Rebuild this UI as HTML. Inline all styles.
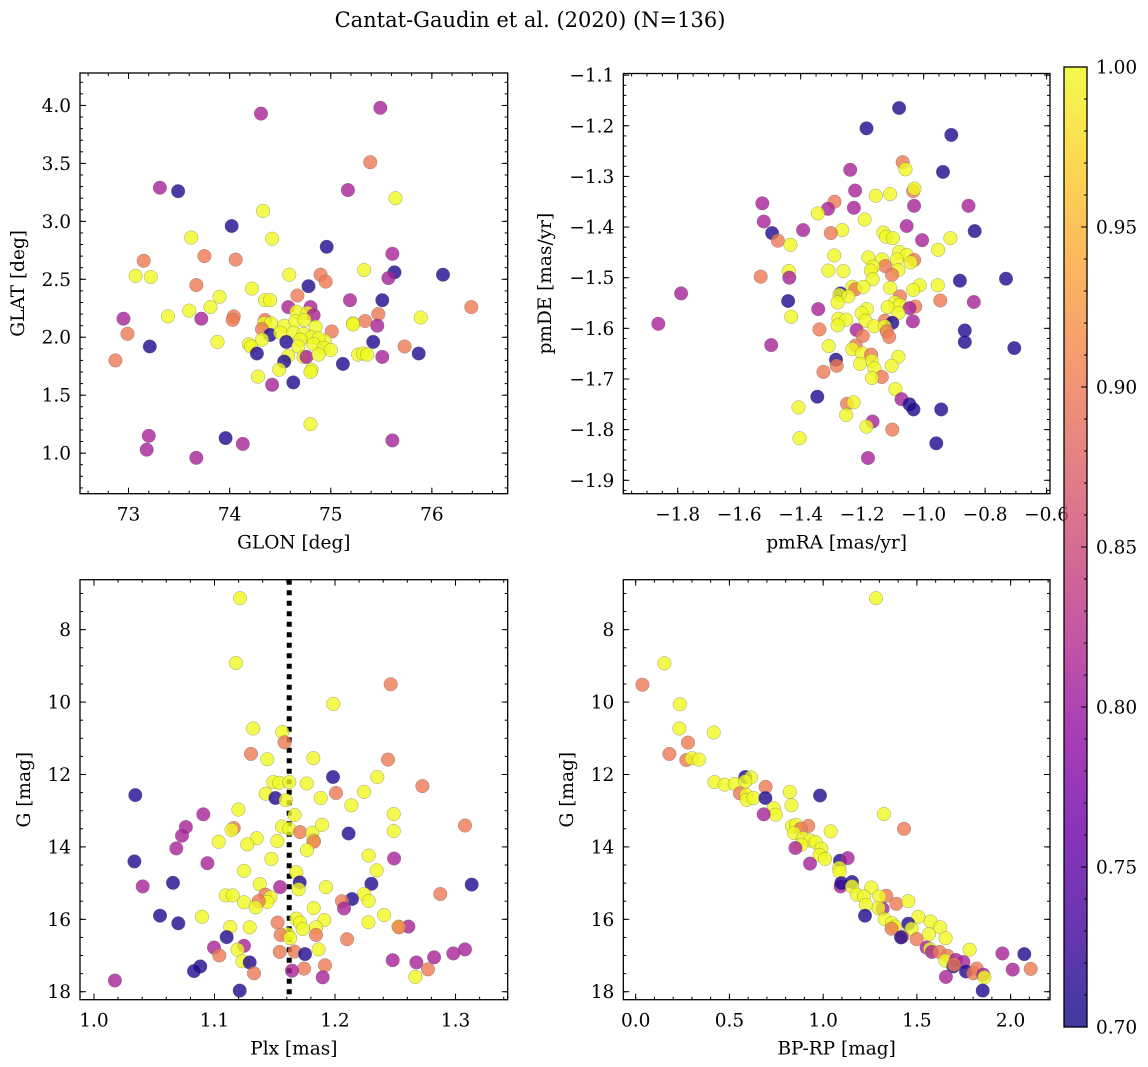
<!DOCTYPE html>
<html><head><meta charset="utf-8"><style>
body{margin:0;background:#fff}
svg{display:block;font-family:"DejaVu Serif","Liberation Serif",serif}
</style></head><body>
<svg id="fig" width="1148" height="1067" viewBox="0 0 1148 1067" xmlns="http://www.w3.org/2000/svg">
<defs><linearGradient id="cmap" x1="0" y1="1" x2="0" y2="0">
<stop offset="0" stop-color="#0d0887"/><stop offset="0.1" stop-color="#41049d"/><stop offset="0.2" stop-color="#6a00a8"/><stop offset="0.3" stop-color="#8f0da4"/><stop offset="0.4" stop-color="#b12a90"/><stop offset="0.5" stop-color="#cc4778"/><stop offset="0.6" stop-color="#e16462"/><stop offset="0.7" stop-color="#f2844b"/><stop offset="0.8" stop-color="#fca636"/><stop offset="0.9" stop-color="#fcce25"/><stop offset="1" stop-color="#f0f921"/>
</linearGradient></defs>
<text x="530" y="27" font-size="21" text-anchor="middle">Cantat-Gaudin et al. (2020) (N=136)</text>
</svg>
<script>
// Panel 1: GLON vs GLAT
const p1x=[74.31,75.49,75.39,73.31,73.49,75.17,75.64,74.33,74.02,73.62,74.42,74.96,75.61,73.15,73.75,74.06,75.33,73.07,73.22,74.59,74.90,75.63,75.57,76.11,74.95,74.22,74.78,73.67,74.67,73.90,74.35,74.40,75.19,75.51,76.39,73.81,74.58,74.80,73.60,75.47,72.95,73.39,73.72,74.04,74.03,75.89,74.66,74.77,74.83,75.34,75.22,75.22,75.46,74.35,74.34,74.41,74.32,74.54,74.65,74.74,74.85,75.01,72.99,74.40,74.50,74.63,74.73,74.81,74.94,74.32,74.56,74.70,74.88,73.88,74.19,74.21,73.21,75.42,75.73,74.68,74.83,74.93,75.00,74.27,75.27,75.32,75.36,75.51,75.87,72.87,74.58,74.73,74.76,74.88,74.54,75.12,74.49,74.81,74.80,74.28,74.42,74.63,74.80,73.20,73.18,73.96,74.13,73.67,75.61];
const p1y=[3.93,3.98,3.51,3.29,3.26,3.27,3.20,3.09,2.96,2.86,2.85,2.78,2.72,2.66,2.70,2.67,2.58,2.53,2.52,2.54,2.54,2.56,2.51,2.54,2.48,2.42,2.44,2.45,2.36,2.35,2.32,2.32,2.32,2.32,2.26,2.26,2.26,2.26,2.23,2.20,2.16,2.18,2.16,2.18,2.15,2.17,2.22,2.21,2.19,2.14,2.12,2.11,2.10,2.15,2.12,2.12,2.07,2.10,2.14,2.15,2.09,2.05,2.03,2.02,2.04,2.04,2.03,2.00,1.97,1.98,1.96,1.98,1.99,1.96,1.94,1.92,1.92,1.96,1.92,1.92,1.94,1.91,1.89,1.86,1.85,1.86,1.85,1.83,1.86,1.80,1.84,1.83,1.83,1.85,1.79,1.77,1.72,1.72,1.70,1.66,1.59,1.61,1.25,1.15,1.03,1.13,1.08,0.96,1.11];
const p1c=[0.81,0.81,0.9,0.81,0.71,0.81,1,1,0.71,1,1,0.71,0.81,0.9,0.9,0.9,1,1,1,1,0.9,0.71,0.81,0.71,0.9,1,0.71,0.9,0.9,1,1,1,0.81,0.71,0.9,1,0.81,0.81,1,0.9,0.81,1,0.81,0.9,0.9,1,1,1,0.81,0.9,1,1,0.81,0.9,1,1,0.9,1,1,1,1,0.9,0.9,0.71,1,1,1,1,1,1,0.71,1,1,1,1,1,0.71,0.71,0.9,1,1,1,1,0.71,1,1,1,0.81,0.71,0.9,1,1,0.81,1,0.71,0.71,1,1,1,1,0.81,0.71,1,0.81,0.81,0.71,0.81,0.81,0.81];
// Panel 2: pmRA vs pmDE
const p2x=[-1.080,-1.186,-0.910,-1.068,-1.059,-1.239,-0.937,-1.223,-1.034,-1.030,-1.156,-1.109,-1.525,-1.290,-1.311,-1.344,-1.227,-1.031,-0.854,-1.192,-1.520,-1.055,-1.392,-1.265,-1.302,-1.493,-0.834,-1.131,-1.122,-1.100,-0.913,-1.474,-1.433,-1.005,-0.953,-1.291,-1.180,-1.135,-1.080,-1.055,-1.031,-1.042,-1.087,-1.125,-1.164,-1.172,-1.082,-1.310,-1.261,-1.439,-1.437,-1.530,-1.103,-1.166,-0.882,-0.732,-1.232,-1.222,-1.196,-1.109,-1.013,-0.954,-1.034,-1.270,-1.789,-1.077,-1.274,-1.245,-1.280,-1.094,-1.077,-1.441,-0.946,-0.837,-1.027,-1.117,-1.046,-1.343,-1.185,-1.202,-1.082,-1.431,-1.277,-1.252,-1.189,-1.126,-1.035,-1.102,-1.863,-1.280,-1.161,-1.127,-1.339,-1.218,-0.866,-1.120,-1.198,-1.112,-0.866,-1.496,-1.221,-1.309,-1.232,-1.200,-1.171,-1.169,-1.082,-0.705,-1.285,-1.283,-1.207,-1.104,-1.160,-1.326,-1.136,-1.168,-1.092,-1.346,-1.072,-1.046,-1.033,-0.943,-1.249,-1.228,-1.407,-1.252,-1.166,-1.186,-1.102,-0.959,-1.404,-1.181];
const p2y=[-1.165,-1.205,-1.218,-1.272,-1.286,-1.287,-1.291,-1.328,-1.329,-1.324,-1.338,-1.335,-1.353,-1.350,-1.364,-1.373,-1.362,-1.358,-1.358,-1.385,-1.389,-1.398,-1.406,-1.406,-1.412,-1.412,-1.408,-1.411,-1.419,-1.422,-1.422,-1.427,-1.435,-1.426,-1.445,-1.456,-1.460,-1.464,-1.449,-1.455,-1.465,-1.470,-1.464,-1.477,-1.478,-1.486,-1.485,-1.486,-1.487,-1.487,-1.500,-1.498,-1.494,-1.503,-1.506,-1.502,-1.518,-1.523,-1.518,-1.520,-1.515,-1.515,-1.524,-1.531,-1.531,-1.537,-1.534,-1.537,-1.549,-1.549,-1.554,-1.546,-1.545,-1.548,-1.557,-1.558,-1.560,-1.562,-1.562,-1.570,-1.570,-1.577,-1.581,-1.583,-1.585,-1.585,-1.586,-1.589,-1.591,-1.594,-1.596,-1.596,-1.602,-1.603,-1.604,-1.606,-1.615,-1.617,-1.627,-1.633,-1.634,-1.635,-1.641,-1.649,-1.652,-1.664,-1.656,-1.639,-1.662,-1.674,-1.670,-1.674,-1.679,-1.686,-1.696,-1.698,-1.720,-1.735,-1.740,-1.750,-1.760,-1.760,-1.749,-1.746,-1.756,-1.771,-1.784,-1.794,-1.800,-1.827,-1.817,-1.856];
const p2c=[0.71,0.71,0.71,0.9,1,0.81,0.71,0.81,0.9,1,1,1,0.81,0.9,0.81,1,0.81,0.81,0.81,1,0.81,0.81,0.81,1,0.9,0.71,0.71,1,1,1,1,0.9,1,0.81,1,1,1,1,1,1,0.9,1,1,0.9,1,1,1,1,1,1,0.81,0.9,0.9,1,0.71,0.71,1,0.9,1,1,1,1,1,0.71,0.81,0.9,1,1,1,1,1,0.71,0.9,0.81,0.9,1,0.81,0.81,1,1,1,1,1,1,1,0.9,0.81,0.71,0.81,1,1,1,0.9,0.81,0.71,0.9,0.9,0.9,0.71,0.81,0.9,1,1,1,0.9,1,1,0.71,0.71,0.9,1,1,1,0.9,0.9,1,1,0.71,0.81,0.71,0.71,0.71,0.9,1,1,1,0.81,1,0.9,0.71,1,0.81];
// Panel 3: Plx vs G
const p3x=[1.1212,1.1178,1.2462,1.1986,1.1320,1.1563,1.1582,1.1303,1.1438,1.1820,1.2440,1.1983,1.2351,1.1488,1.1538,1.1621,1.1765,1.2725,1.1425,1.1505,1.1591,1.2008,1.2241,1.1881,1.0343,1.2136,1.1198,1.0907,1.1665,1.2487,1.3079,1.0763,1.0730,1.1159,1.1142,1.1560,1.1621,1.1710,1.1812,1.1892,1.2487,1.2113,1.1350,1.1035,1.1272,1.1521,1.1820,1.1826,1.0683,1.1768,1.0335,1.1472,1.2279,1.2490,1.0941,1.1245,1.2346,1.1679,1.0656,1.1707,1.2302,1.3134,1.0404,1.1375,1.1544,1.1699,1.1925,1.1093,1.1151,1.1422,1.1464,1.2241,1.2874,1.2141,1.2279,1.2058,1.1245,1.1438,1.1367,1.1342,1.2075,1.1823,1.0548,1.0896,1.2407,1.1679,1.1911,1.0700,1.1524,1.1710,1.2277,1.1131,1.1292,1.2609,1.2526,1.2532,1.1732,1.1842,1.1842,1.1607,1.1549,1.1101,1.1627,1.0996,1.1040,1.1245,1.1192,1.1864,1.1541,1.1665,1.1751,1.2100,1.3079,1.2982,1.2822,1.2479,1.2675,1.1231,1.1292,1.1917,1.1743,1.1643,1.2772,1.0882,1.0830,1.1328,1.1898,1.2667,1.0174,1.1209];
const p3y=[7.13,8.92,9.51,10.05,10.73,10.83,11.11,11.43,11.58,11.55,11.59,12.07,12.07,12.21,12.23,12.21,12.25,12.32,12.53,12.65,12.71,12.51,12.48,12.65,12.57,12.85,12.97,13.10,13.12,13.09,13.41,13.45,13.69,13.48,13.53,13.44,13.50,13.59,13.61,13.39,13.56,13.63,13.76,13.86,13.93,13.84,13.82,13.85,14.04,14.09,14.40,14.33,14.24,14.32,14.45,14.66,14.65,14.70,14.99,14.98,15.02,15.04,15.09,15.03,15.11,15.17,15.11,15.34,15.34,15.32,15.39,15.30,15.30,15.44,15.49,15.50,15.53,15.52,15.50,15.67,15.70,15.69,15.90,15.93,15.88,15.98,16.02,16.11,16.09,16.09,16.08,16.21,16.22,16.20,16.20,16.22,16.27,16.22,16.43,16.41,16.43,16.49,16.52,16.78,17.00,16.73,16.84,16.83,16.90,16.89,16.96,16.55,16.83,16.94,17.05,17.13,17.19,17.16,17.19,17.27,17.36,17.42,17.38,17.30,17.43,17.49,17.60,17.59,17.69,17.97];
const p3c=[1,1,0.9,1,1,1,0.9,0.9,1,1,0.9,0.71,1,1,1,1,1,0.9,1,0.71,1,0.9,1,1,0.71,1,1,0.81,1,1,0.9,0.81,0.81,0.9,1,1,1,0.9,1,1,1,0.71,1,1,1,1,1,0.9,0.81,1,0.71,1,1,0.81,0.81,1,1,1,0.71,0.71,0.71,0.71,0.81,1,0.81,1,1,1,1,0.9,1,1,0.9,0.71,1,0.9,1,1,0.9,1,0.81,1,0.71,1,1,1,1,0.71,0.9,1,1,1,1,0.81,1,0.9,1,1,0.9,1,0.9,0.71,1,0.81,0.9,0.81,1,1,0.9,0.9,0.71,0.9,0.81,0.81,0.81,0.81,0.81,1,0.71,0.9,0.9,0.81,0.9,0.71,0.71,0.9,0.81,1,0.81,0.71];
const plxLine=1.162;
// Panel 4: BP-RP vs G
const p4x=[1.282,0.153,0.036,0.236,0.233,0.416,0.279,0.180,0.270,0.299,0.338,0.585,0.615,0.420,0.475,0.528,0.585,0.693,0.822,0.983,0.556,0.590,0.592,0.628,0.692,0.831,0.736,0.747,0.683,1.324,1.431,0.921,0.833,0.855,0.880,0.844,1.040,0.894,0.930,0.960,0.884,0.852,0.990,0.981,1.010,1.090,1.131,0.930,1.086,1.088,1.154,1.093,1.097,1.154,1.257,1.180,1.337,1.218,1.300,1.390,1.454,1.228,1.317,1.296,1.508,1.223,1.328,1.454,1.573,1.367,1.383,1.365,1.472,1.625,1.422,1.415,1.499,1.564,1.653,1.552,1.570,1.781,1.580,1.621,1.664,1.956,2.073,1.652,1.708,1.748,1.694,1.698,1.762,1.819,1.801,2.011,2.107,1.655,1.854,1.860,1.851];
const p4y=[7.13,8.93,9.52,10.06,10.73,10.84,11.12,11.43,11.60,11.55,11.59,12.07,12.08,12.21,12.28,12.26,12.19,12.34,12.48,12.58,12.52,12.56,12.70,12.65,12.65,12.85,12.93,13.11,13.10,13.09,13.50,13.42,13.43,13.39,13.50,13.62,13.57,13.76,13.82,13.87,13.94,14.03,14.05,14.22,14.33,14.38,14.31,14.46,14.58,14.69,14.97,15.09,15.00,15.09,15.12,15.32,15.35,15.37,15.37,15.57,15.50,15.60,15.71,15.69,15.93,15.90,15.99,16.12,16.06,16.11,16.20,16.26,16.26,16.22,16.48,16.50,16.55,16.41,16.52,16.78,16.82,16.84,16.90,16.90,17.01,16.94,16.96,17.14,17.12,17.18,17.30,17.25,17.44,17.36,17.49,17.39,17.37,17.59,17.53,17.60,17.97];
const p4c=[1,1,0.9,1,1,1,0.9,0.9,0.9,1,1,0.71,1,1,1,1,1,0.9,1,0.71,0.9,1,1,1,0.71,1,1,1,0.81,1,0.9,0.9,1,1,0.9,1,1,1,1,1,1,0.81,1,1,1,0.71,0.81,0.81,1,1,0.71,0.81,0.71,1,1,1,0.9,1,1,0.9,1,1,0.81,1,1,0.71,1,0.71,1,1,1,0.9,1,1,0.9,0.71,0.9,1,1,0.81,1,1,0.81,0.9,0.9,0.81,0.71,1,0.81,0.81,0.71,0.9,0.71,0.9,0.9,0.81,0.9,0.81,0.81,1,0.71];
const cbTicks=[0.70,0.75,0.80,0.85,0.90,0.95,1.00];

const svg=document.getElementById('fig');
const NS='http://www.w3.org/2000/svg';
function mk(tag,attrs,parent){const e=document.createElementNS(NS,tag);for(const k in attrs)e.setAttribute(k,attrs[k]);(parent||svg).appendChild(e);return e;}
const stops=['#0d0887','#41049d','#6a00a8','#8f0da4','#b12a90','#cc4778','#e16462','#f2844b','#fca636','#fcce25','#f0f921'];
function hex(h){return [1,3,5].map(i=>parseInt(h.substr(i,2),16));}
function plasma(v){let t=Math.max(0,Math.min(1,(v-0.7)/0.3))*10;const i=Math.min(9,Math.floor(t));const f=t-i;const a=hex(stops[i]),b=hex(stops[i+1]);return 'rgb('+a.map((x,k)=>Math.round(x+(b[k]-x)*f)).join(',')+')';}
function fmt(v,d){return (v<0?'\u2212':'')+Math.abs(v).toFixed(d);}
const TF=18.5;

function panel(o){
  const g=mk('g',{});
  
  
  const sx=v=>o.L+(v-o.x0)/(o.x1-o.x0)*(o.R-o.L);
  const sy=v=>o.T+(v-o.y0)/(o.y1-o.y0)*(o.B-o.T);
  const cp='clip-'+o.name;
  const cl=mk('clipPath',{id:cp},g);mk('rect',{x:o.L,y:o.T,width:o.R-o.L,height:o.B-o.T},cl);
  const pts=mk('g',{'clip-path':'url(#'+cp+')'},g);
  if(o.vline!==undefined){const vl=mk('line',{x1:sx(o.vline),x2:sx(o.vline),y1:o.T,y2:o.B,stroke:'#000','stroke-width':5,'stroke-dasharray':'5,5.5'},pts);
    
    }
  for(let i=0;i<o.xs.length;i++){
    const c=mk('circle',{cx:sx(o.xs[i]).toFixed(1),cy:sy(o.ys[i]).toFixed(1),r:6.8,fill:plasma(o.cs[i]),'fill-opacity':0.8,stroke:'#666','stroke-opacity':0.6,'stroke-width':0.5},pts);
    
    
  }
  mk('rect',{x:o.L,y:o.T,width:o.R-o.L,height:o.B-o.T,fill:'none',stroke:'#000','stroke-width':1.3},g);
  const ts={stroke:'#000','stroke-width':1};
  for(let v=Math.ceil(o.x0/o.xm-1e-6)*o.xm;v<=o.x1+1e-9;v+=o.xm){const X=sx(v);mk('line',Object.assign({x1:X,x2:X,y1:o.B,y2:o.B-3},ts),g);mk('line',Object.assign({x1:X,x2:X,y1:o.T,y2:o.T+3},ts),g);}
  for(const v of o.xt){const X=sx(v);if(X<o.L-1||X>o.R+1)continue;mk('line',Object.assign({x1:X,x2:X,y1:o.B,y2:o.B-6},ts),g);mk('line',Object.assign({x1:X,x2:X,y1:o.T,y2:o.T+6},ts),g);}
  for(const v of o.xt){const t=mk('text',{x:sx(v),y:o.B+27,'font-size':TF,'text-anchor':'middle'},g);t.textContent=fmt(v,o.xd);
    
    }
  for(let v=Math.ceil(Math.min(o.y0,o.y1)/o.ym-1e-6)*o.ym;v<=Math.max(o.y0,o.y1)+1e-9;v+=o.ym){const Y=sy(v);mk('line',Object.assign({x1:o.L,x2:o.L+3,y1:Y,y2:Y},ts),g);mk('line',Object.assign({x1:o.R,x2:o.R-3,y1:Y,y2:Y},ts),g);}
  for(const v of o.yt){const Y=sy(v);mk('line',Object.assign({x1:o.L,x2:o.L+6,y1:Y,y2:Y},ts),g);mk('line',Object.assign({x1:o.R,x2:o.R-6,y1:Y,y2:Y},ts),g);
    const t=mk('text',{x:o.L-9,y:Y+6.5,'font-size':TF,'text-anchor':'end'},g);t.textContent=fmt(v,o.yd);
    
    }
  const xl=mk('text',{x:(o.L+o.R)/2,y:o.B+55,'font-size':18.5,'text-anchor':'middle'},g);xl.textContent=o.xlab;
  
  
  const yx=o.ylx,yy=(o.T+o.B)/2;
  const yl=mk('text',{x:yx,y:yy,'font-size':18.5,'text-anchor':'middle',transform:'rotate(-90 '+yx+' '+yy+')'},g);yl.textContent=o.ylab;
  
  
}
panel({name:'glon-glat-panel',L:80,R:507.7,T:73,B:493.7,x0:72.52,x1:76.75,y0:4.28,y1:0.65,xs:p1x,ys:p1y,cs:p1c,xt:[73,74,75,76],xd:0,xm:0.2,yt:[1.0,1.5,2.0,2.5,3.0,3.5,4.0],yd:1,ym:0.1,xlab:'GLON [deg]',ylab:'GLAT [deg]',ylx:24});
panel({name:'pm-panel',L:623.3,R:1050,T:73.5,B:493.7,x0:-1.977,x1:-0.589,y0:-1.0968,y1:-1.9265,xs:p2x,ys:p2y,cs:p2c,xt:[-1.8,-1.6,-1.4,-1.2,-1.0,-0.8,-0.6],xd:1,xm:0.05,yt:[-1.9,-1.8,-1.7,-1.6,-1.5,-1.4,-1.3,-1.2,-1.1],yd:1,ym:0.02,xlab:'pmRA [mas/yr]',ylab:'pmDE [mas/yr]',ylx:551});
panel({name:'plx-g-panel',L:80,R:507.7,T:579.7,B:999.7,x0:0.9884,x1:1.3433,y0:6.62,y1:18.22,xs:p3x,ys:p3y,cs:p3c,xt:[1.0,1.1,1.2,1.3],xd:1,xm:0.02,yt:[8,10,12,14,16,18],yd:0,ym:0.5,xlab:'Plx [mas]',ylab:'G [mag]',ylx:30,vline:plxLine});
panel({name:'cmd-panel',L:623.3,R:1050,T:579.7,B:999.7,x0:-0.066,x1:2.21,y0:6.62,y1:18.22,xs:p4x,ys:p4y,cs:p4c,xt:[0.0,0.5,1.0,1.5,2.0],xd:1,xm:0.1,yt:[8,10,12,14,16,18],yd:0,ym:0.5,xlab:'BP-RP [mag]',ylab:'G [mag]',ylx:573});
const cb=mk('g',{});


const cT=67,cB=1027,cL=1064,cR=1087;
mk('rect',{x:cL,y:cT,width:cR-cL,height:cB-cT,fill:'url(#cmap)','fill-opacity':0.8},cb);
mk('rect',{x:cL,y:cT,width:cR-cL,height:cB-cT,fill:'none',stroke:'#000','stroke-width':1.3},cb);
const cy=v=>cB-(v-0.7)/0.3*(cB-cT);
for(let v=0.7;v<=1.0001;v+=0.01){mk('line',{x1:cR,x2:cR-3,y1:cy(v),y2:cy(v),stroke:'#000'},cb);}
for(const v of cbTicks){mk('line',{x1:cR,x2:cR-6,y1:cy(v),y2:cy(v),stroke:'#000'},cb);
  const t=mk('text',{x:cR+9,y:cy(v)+6.5,'font-size':TF},cb);t.textContent=v.toFixed(2);
  
  }
</script>
</body></html>
